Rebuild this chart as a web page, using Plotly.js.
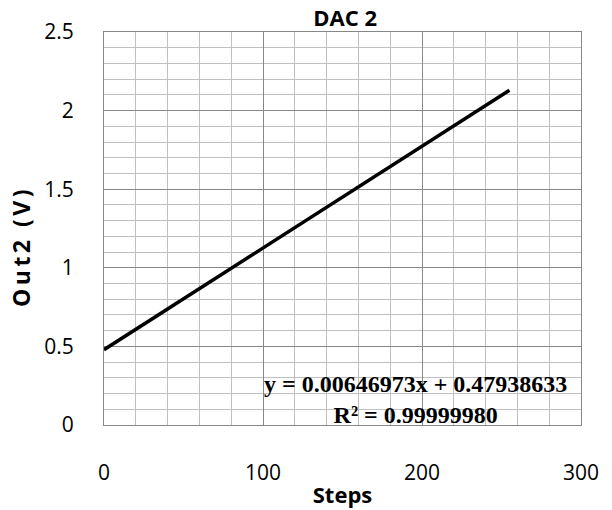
<!DOCTYPE html>
<html><head><meta charset="utf-8">
<script src="https://cdn.plot.ly/plotly-3.0.1.min.js"></script>
<style>
body{margin:0;background:#fff}#c{width:612px;height:510px}
#c .ytitle{letter-spacing:3.5px; translate:0 18px;}
</style>
</head><body><div id="c"></div>
<script>
const steps = [0, 255];
const out2 = [0.479, 2.129];
const titleText = "DAC 2";
const xTitle = "Steps";
const yTitle = "Out2 (V)";
const eqLine1 = "y = 0.00646973x + 0.47938633";
const eqLine2 = "R² = 0.99999980";

const fam = "Open Sans, Liberation Sans, sans-serif";
const tickFont = {family: fam, size: 21, color: "#000"};

Plotly.newPlot("c", [{
  x: steps, y: out2, type: "scatter", mode: "lines",
  line: {color: "#000", width: 3.5}, hoverinfo: "skip"
}], {
  width: 612, height: 510,
  margin: {l: 104, r: 31, t: 32, b: 85},
  paper_bgcolor: "#fff", plot_bgcolor: "#fff",
  showlegend: false,
  title: {text: "<b>" + titleText + "</b>", font: {family: fam, size: 22, color: "#000"}, x: 0.564, xanchor: "center", y: 0.965, yanchor: "middle"},
  xaxis: {
    range: [0, 300], dtick: 100, tick0: 0,
    showgrid: true, gridcolor: "#878787", gridwidth: 1,
    minor: {dtick: 20, showgrid: true, gridcolor: "#c0c0c0", gridwidth: 1},
    showline: true, linecolor: "#878787", linewidth: 1, mirror: true,
    zeroline: false, ticks: "", ticklabelstandoff: 29,
    tickfont: tickFont,
    title: {text: "<b>" + xTitle + "</b>", font: {family: fam, size: 22, color: "#000"}, standoff: 2}
  },
  yaxis: {
    range: [0, 2.5], dtick: 0.5, tick0: 0,
    showgrid: true, gridcolor: "#878787", gridwidth: 1,
    minor: {dtick: 0.1, showgrid: true, gridcolor: "#c0c0c0", gridwidth: 1},
    showline: true, linecolor: "#878787", linewidth: 1, mirror: true,
    zeroline: false, ticks: "", ticklabelstandoff: 25,
    tickfont: tickFont,
    title: {text: "<b>" + yTitle + "</b>", font: {family: fam, size: 23, color: "#000"}, standoff: 7}
  },
  annotations: [{
    xref: "x", yref: "y", x: 196, y: 0.16,
    text: "<b>" + eqLine1 + "</b><br><b>" + eqLine2 + "</b>",
    showarrow: false, align: "center", xanchor: "center", yanchor: "middle",
    font: {family: "Liberation Serif, Times New Roman, serif", size: 24, color: "#000"}
  }]
}, {displayModeBar: false, staticPlot: true});
</script></body></html>
